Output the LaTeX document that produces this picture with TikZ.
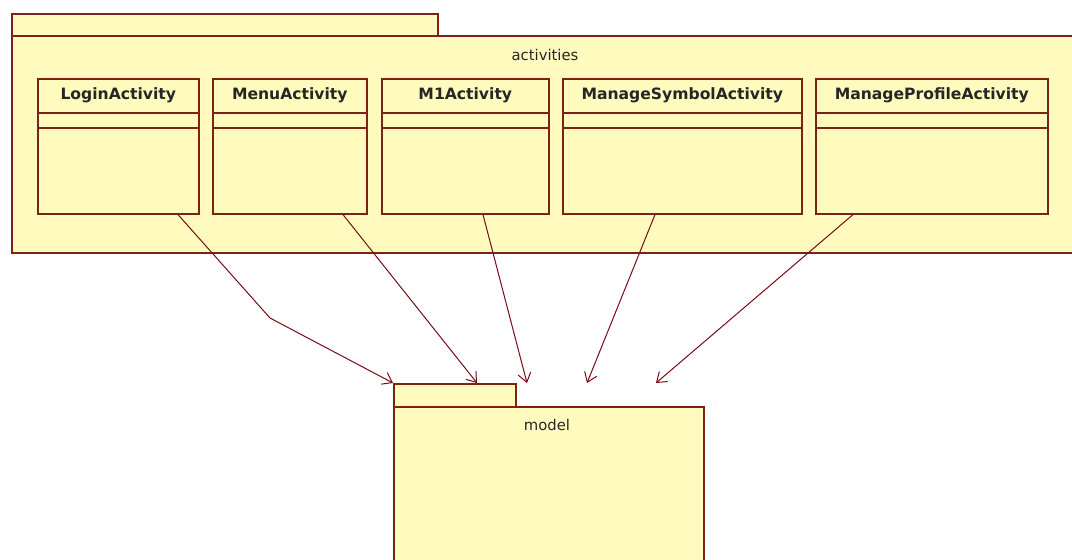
\documentclass[tikz,border=0pt]{standalone}
\usepackage{fontspec}
\setmainfont{DejaVu Sans}
\usetikzlibrary{arrows.meta,positioning}

\definecolor{pkgfill}{RGB}{255,251,190}
\definecolor{pkgline}{RGB}{125,35,22}
\definecolor{deparrow}{RGB}{120,10,20}

\tikzset{
  x=1pt, y=-1pt,
  umlbox/.style={draw=pkgline, fill=pkgfill, line width=1.6pt, rectangle,
    inner sep=0pt, anchor=north west},
  clsname/.style={font=\fontsize{15.6}{18}\selectfont\bfseries, text=black!85, inner sep=0pt},
  pkgname/.style={font=\fontsize{14.8}{18}\selectfont, text=black!85, inner sep=0pt},
  dep/.style={draw=deparrow, line width=1pt,
    -{Straight Barb[length=9pt,width=13pt,line width=1pt]}},
}

% class box: #1 name, #2 left, #3 right, #4 title
\newcommand{\umlclass}[4]{%
  \node[umlbox, minimum width=#3-#2, minimum height=135] (#1) at (#2,78) {};
  \node[clsname] (#1-title) at ([yshift=-17]#1.north) {#4};
  \draw[draw=pkgline, line width=1.6pt] ([yshift=-35]#1.north west) -- ([yshift=-35]#1.north east);
  \draw[draw=pkgline, line width=1.6pt] ([yshift=-50]#1.north west) -- ([yshift=-50]#1.north east);
}

\begin{document}
\begin{tikzpicture}
\useasboundingbox (0,0) rectangle (1072,560);
\begin{scope}
\clip (0,0) rectangle (1072,560);

% package "activities"
\node[umlbox, minimum width=426, minimum height=22] (acttab) at (11,13) {};
\node[umlbox, minimum width=1080, minimum height=217] (activities) at (11,35) {};
\node[pkgname] (activities-label) at (545,55) {activities};

% classes
\umlclass{login}{37}{198}{LoginActivity}
\umlclass{menu}{212}{366}{MenuActivity}
\umlclass{mone}{381}{548}{M1Activity}
\umlclass{symbol}{562}{801}{ManageSymbolActivity}
\umlclass{profile}{815}{1047}{ManageProfileActivity}

% package "model"
\node[umlbox, minimum width=122, minimum height=23] (modeltab) at (393,383) {};
\node[umlbox, minimum width=310, minimum height=190] (model) at (393,406) {};
\node[pkgname] (model-label) at (547,425) {model};

% dependencies
\coordinate (bend) at (270,318);
\draw[dep] ([xshift=141]login.south west) -- (bend) -- (modeltab.north west);
\draw[dep] ([xshift=131]menu.south west) -- ([xshift=84]modeltab.north west);
\draw[dep] ([xshift=102]mone.south west) -- ([xshift=134]modeltab.north west);
\draw[dep] ([xshift=93]symbol.south west) -- ([xshift=194]modeltab.north west);
\draw[dep] ([xshift=38]profile.south west) -- ([xshift=263]modeltab.north west);
\end{scope}
\end{tikzpicture}
\end{document}
